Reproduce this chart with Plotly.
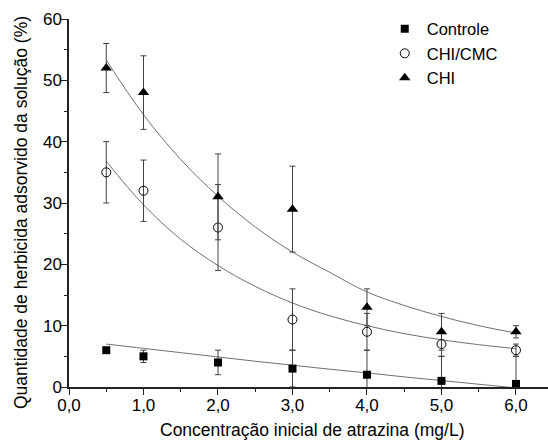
import plotly.graph_objects as go

# ---- data ----
conc = [0.5, 1.0, 2.0, 3.0, 4.0, 5.0, 6.0]

controle = [6.0, 5.0, 4.0, 3.0, 2.0, 1.0, 0.5]
controle_err = [0.0, 1.0, 2.0, 3.0, 4.0, 4.0, 4.5]

chi_cmc = [35.0, 32.0, 26.0, 11.0, 9.0, 7.0, 6.0]
chi_cmc_err = [5.0, 5.0, 7.0, 5.0, 3.0, 2.0, 1.0]

chi = [52.0, 48.0, 31.0, 29.0, 13.0, 9.0, 9.0]
chi_err = [4.0, 6.0, 7.0, 7.0, 3.0, 3.0, 1.0]

# fitted curves
fit_x = [0.5, 1.0, 1.5, 2.0, 2.5, 3.0, 3.5, 4.0, 4.5, 5.0, 5.5, 6.0]
fit_controle = [7.0, 6.3, 5.6, 4.9, 4.2, 3.55, 2.9, 2.3, 1.65, 1.05, 0.45, -0.15]
fit_chi_cmc = [36.8, 29.7, 24.1, 19.8, 16.4, 13.7, 11.6, 10.0, 8.7, 7.7, 6.9, 6.25]
fit_chi = [53.3, 44.4, 37.1, 31.1, 26.1, 22.0, 18.7, 15.5, 13.3, 11.5, 10.0, 8.8]

x_tickvals = [0, 1, 2, 3, 4, 5, 6]
x_ticktext = ["0,0", "1,0", "2,0", "3,0", "4,0", "5,0", "6,0"]
y_tickvals = [0, 10, 20, 30, 40, 50, 60]

x_title = "Concentração inicial de atrazina (mg/L)"
y_title = "Quantidade de herbicida adsorvido da solução (%)"

FONT = "Arial, Liberation Sans, sans-serif"
curve_color = "#707070"
err_color = "#404040"
axis_color = "#222"

fig = go.Figure()

for fy in (fit_controle, fit_chi_cmc, fit_chi):
    fig.add_trace(go.Scatter(x=fit_x, y=fy, mode="lines",
                             line=dict(color=curve_color, width=1, shape="spline"),
                             showlegend=False, hoverinfo="skip"))

fig.add_trace(go.Scatter(
    x=conc, y=controle, mode="markers", name="Controle",
    marker=dict(symbol="square", size=8, color="black"),
    error_y=dict(type="data", array=controle_err, color=err_color, thickness=1, width=3)))
fig.add_trace(go.Scatter(
    x=conc, y=chi_cmc, mode="markers", name="CHI/CMC",
    marker=dict(symbol="circle-open", size=9, color="black", line=dict(width=1)),
    error_y=dict(type="data", array=chi_cmc_err, color=err_color, thickness=1, width=3)))
fig.add_trace(go.Scatter(
    x=conc, y=chi, mode="markers", name="CHI",
    marker=dict(symbol="triangle-up", size=10, color="black"),
    error_y=dict(type="data", array=chi_err, color=err_color, thickness=1, width=3)))

fig.update_layout(
    width=548, height=443,
    margin=dict(l=69, r=0, t=19, b=56),
    paper_bgcolor="white", plot_bgcolor="white",
    font=dict(family=FONT, size=17, color="black"),
    legend=dict(x=0.655, y=1.02, xanchor="left", yanchor="top",
                font=dict(size=16.5), bgcolor="rgba(0,0,0,0)", tracegroupgap=0, itemwidth=34),
    xaxis=dict(range=[0, 6.43], tickvals=x_tickvals, ticktext=x_ticktext, automargin=False,
               showline=True, linecolor=axis_color, linewidth=1.5, ticks="outside", ticklen=6,
               tickcolor=axis_color, tickwidth=1.2, showgrid=False, zeroline=False,
               minor=dict(dtick=0.5, ticks="outside", ticklen=3, tickcolor=axis_color, tickwidth=1.2),
               tickfont=dict(size=17), ticklabelstandoff=-4),
    yaxis=dict(range=[0, 60], tickvals=y_tickvals, automargin=False,
               showline=True, linecolor=axis_color, linewidth=1.5, ticks="outside", ticklen=6,
               tickcolor=axis_color, tickwidth=1.2, showgrid=False, zeroline=False,
               minor=dict(dtick=5, ticks="outside", ticklen=3, tickcolor=axis_color, tickwidth=1.2),
               tickfont=dict(size=17), ticklabelstandoff=-4),
    annotations=[
        dict(text=x_title, xref="paper", yref="paper", x=(312 - 69) / 479, y=(387 - 430) / 368,
             xanchor="center", yanchor="middle", showarrow=False, font=dict(size=17.5)),
        dict(text=y_title, xref="paper", yref="paper", x=(21 - 69) / 479, y=(387 - 213) / 368,
             xanchor="center", yanchor="middle", showarrow=False, textangle=-90, font=dict(size=17.5)),
    ],
)

fig.write_html("out.html", config={"displayModeBar": False},
               post_script="document.body.style.margin='0';")
